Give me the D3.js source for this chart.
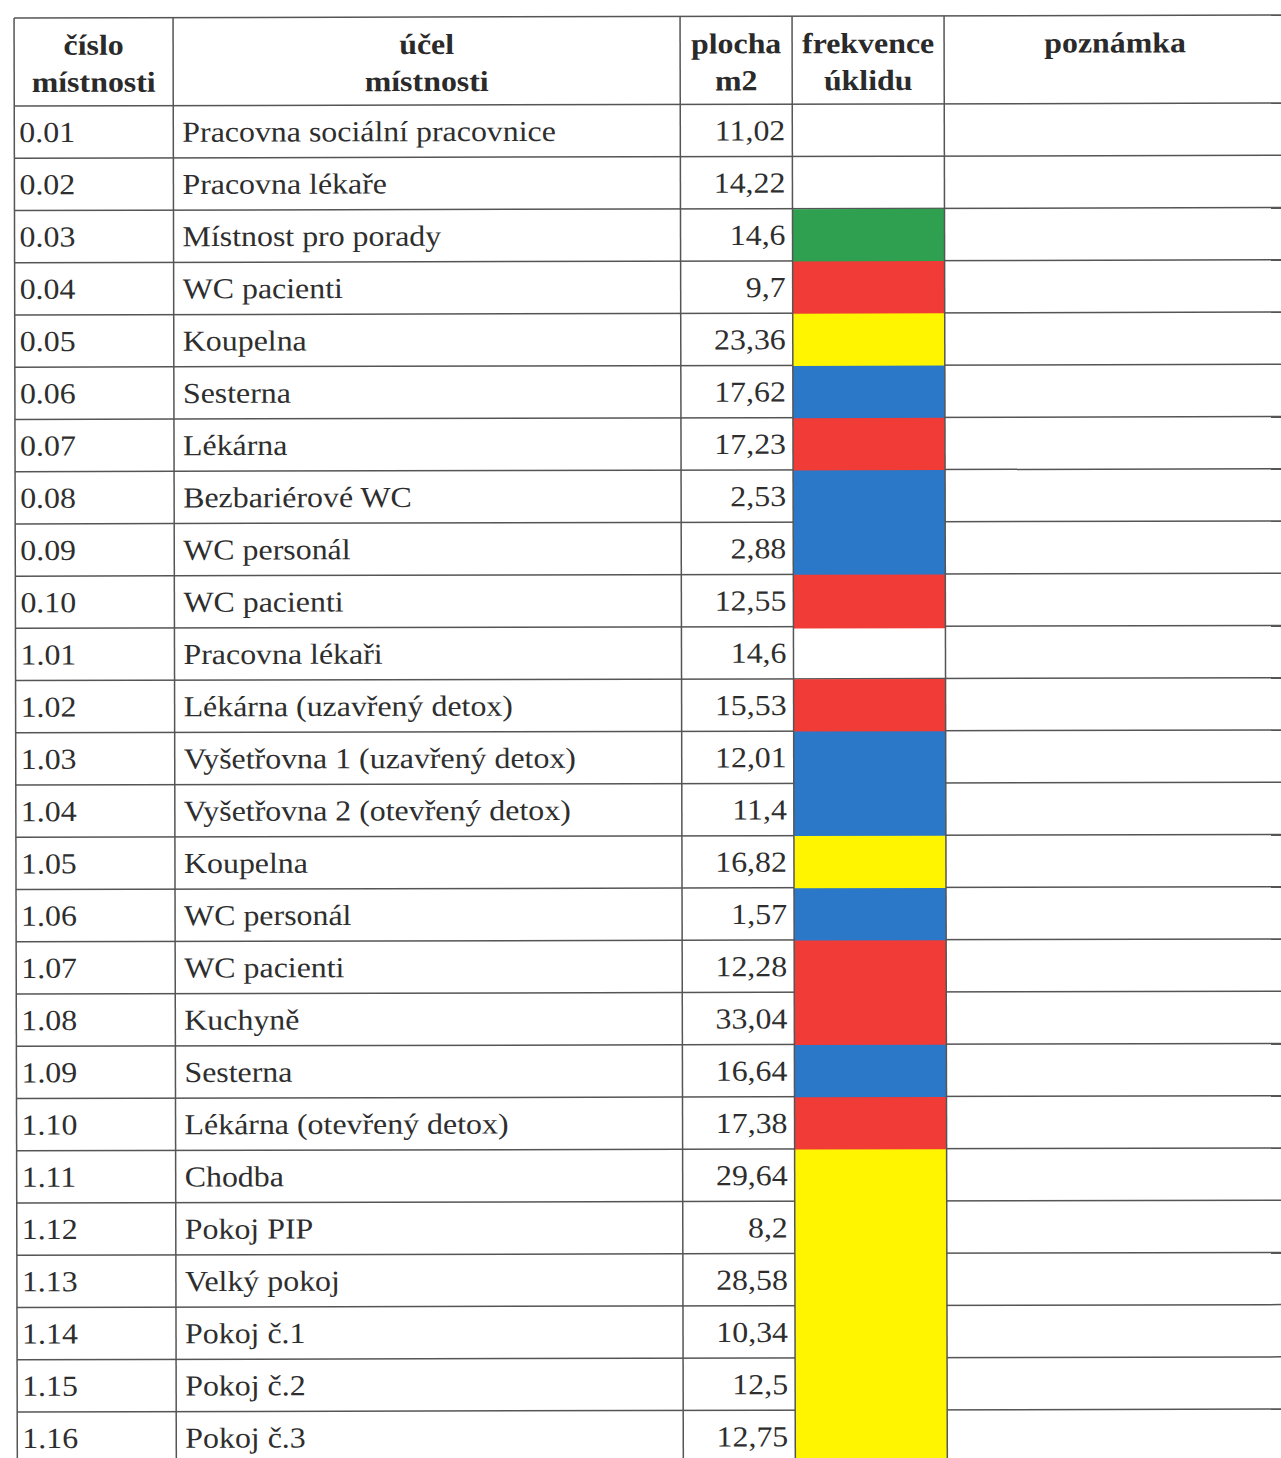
<!DOCTYPE html>
<html>
<head>
<meta charset="utf-8">
<script src="https://d3js.org/d3.v7.min.js"></script>
<style>
  body { margin: 0; background: #fff; }
  .cell { font-family: "Liberation Serif", "Times New Roman", serif; font-size: 29px; fill: #2e2e2e; }
  .head { font-family: "Liberation Serif", "Times New Roman", serif; font-size: 29px; font-weight: bold; fill: #2a2a2a; }
  .grid { stroke: #555; stroke-width: 1.5px; fill: none; }
</style>
</head>
<body>
<script>
// --- data ---
var headers = [["číslo", "místnosti"], ["účel", "místnosti"], ["plocha", "m2"], ["frekvence", "úklidu"], ["poznámka", ""]];

var rooms = ["0.01", "0.02", "0.03", "0.04", "0.05", "0.06", "0.07", "0.08", "0.09", "0.10",
             "1.01", "1.02", "1.03", "1.04", "1.05", "1.06", "1.07", "1.08", "1.09", "1.10",
             "1.11", "1.12", "1.13", "1.14", "1.15", "1.16"];

var purposes = ["Pracovna sociální pracovnice", "Pracovna lékaře", "Místnost pro porady", "WC pacienti",
                "Koupelna", "Sesterna", "Lékárna", "Bezbariérové WC", "WC personál", "WC pacienti",
                "Pracovna lékaři", "Lékárna (uzavřený detox)", "Vyšetřovna 1 (uzavřený detox)",
                "Vyšetřovna 2 (otevřený detox)", "Koupelna", "WC personál", "WC pacienti", "Kuchyně",
                "Sesterna", "Lékárna (otevřený detox)", "Chodba", "Pokoj PIP", "Velký pokoj",
                "Pokoj č.1", "Pokoj č.2", "Pokoj č.3"];

var areas = [11.02, 14.22, 14.6, 9.7, 23.36, 17.62, 17.23, 2.53, 2.88, 12.55,
             14.6, 15.53, 12.01, 11.4, 16.82, 1.57, 12.28, 33.04, 16.64, 17.38,
             29.64, 8.2, 28.58, 10.34, 12.5, 12.75];

// cleaning frequency category per room (colour code in the scan), "" = none
var frequency = ["", "", "G", "R", "Y", "B", "R", "B", "B", "R",
                 "", "R", "B", "B", "Y", "B", "R", "R", "B", "R",
                 "Y", "Y", "Y", "Y", "Y", "Y"];

// --- layout ---
var W = 1281, H = 1458;
var colEdges = [14, 173, 680, 792, 944, 1290];
var headTop = 18, headBottom = 106, rowH = 52.24;
var sx = 1.1; // scan is slightly stretched horizontally

var cz = d3.formatLocale({decimal: ",", thousands: " ", grouping: [3], currency: ["", " Kč"]});
var fmt = cz.format("~f");

var freqColor = d3.scaleOrdinal()
    .domain(["G", "R", "Y", "B"])
    .range(["#2fa050", "#f03b36", "#fff500", "#2b78c8"]);

var y = d3.scaleBand()
    .domain(rooms)
    .range([headBottom, headBottom + rooms.length * rowH]);

var data = rooms.map(function(r, i) {
  return {room: r, purpose: purposes[i], area: areas[i], freq: frequency[i]};
});

var svg = d3.select("body").append("svg")
    .attr("width", W)
    .attr("height", H);

var g = svg.append("g")
    .attr("transform", "rotate(-0.13)");

function txt(sel, cls, x, yy, anchor, s) {
  return sel.append("text")
      .attr("class", cls)
      .attr("text-anchor", anchor)
      .attr("transform", "translate(" + x + "," + yy + ") scale(" + sx + ",1)")
      .text(s);
}

// horizontal rules (drawn first so coloured cells cover them)
var lineYs = [headTop, headBottom].concat(rooms.map(function(r) { return y(r) + y.bandwidth(); }));
g.selectAll("line.h")
  .data(lineYs)
  .enter().append("line")
    .attr("class", "grid h")
    .attr("x1", colEdges[0]).attr("x2", colEdges[colEdges.length - 1])
    .attr("y1", function(d) { return d; })
    .attr("y2", function(d) { return d; });

// coloured frequency cells (overlap a little so no seams show between equal colours)
g.selectAll("rect.freq")
  .data(data.filter(function(d) { return d.freq; }))
  .enter().append("rect")
    .attr("class", "freq")
    .attr("x", colEdges[3])
    .attr("width", colEdges[4] - colEdges[3])
    .attr("y", function(d) { return y(d.room) + 0.5; })
    .attr("height", y.bandwidth() + 1.5)
    .attr("fill", function(d) { return freqColor(d.freq); });

// vertical rules
g.selectAll("line.v")
  .data(colEdges.slice(0, 5))
  .enter().append("line")
    .attr("class", "grid v")
    .attr("x1", function(d) { return d; })
    .attr("x2", function(d) { return d; })
    .attr("y1", headTop)
    .attr("y2", headBottom + rooms.length * rowH);

// header
headers.forEach(function(h, i) {
  var cx = (colEdges[i] + colEdges[i + 1]) / 2;
  if (i === 4) cx = 1115;
  txt(g, "head", cx, 55, "middle", h[0]);
  if (h[1]) txt(g, "head", cx, 92, "middle", h[1]);
});

// body rows
var rows = g.selectAll("g.row")
  .data(data)
  .enter().append("g")
    .attr("class", "row");

rows.each(function(d) {
  var sel = d3.select(this);
  var by = y(d.room) + y.bandwidth() / 2 + 10;
  txt(sel, "cell", colEdges[0] + 5, by, "start", d.room);
  txt(sel, "cell", colEdges[1] + 9, by, "start", d.purpose);
  txt(sel, "cell", colEdges[3] - 7, by, "end", fmt(d.area));
});
</script>
</body>
</html>
